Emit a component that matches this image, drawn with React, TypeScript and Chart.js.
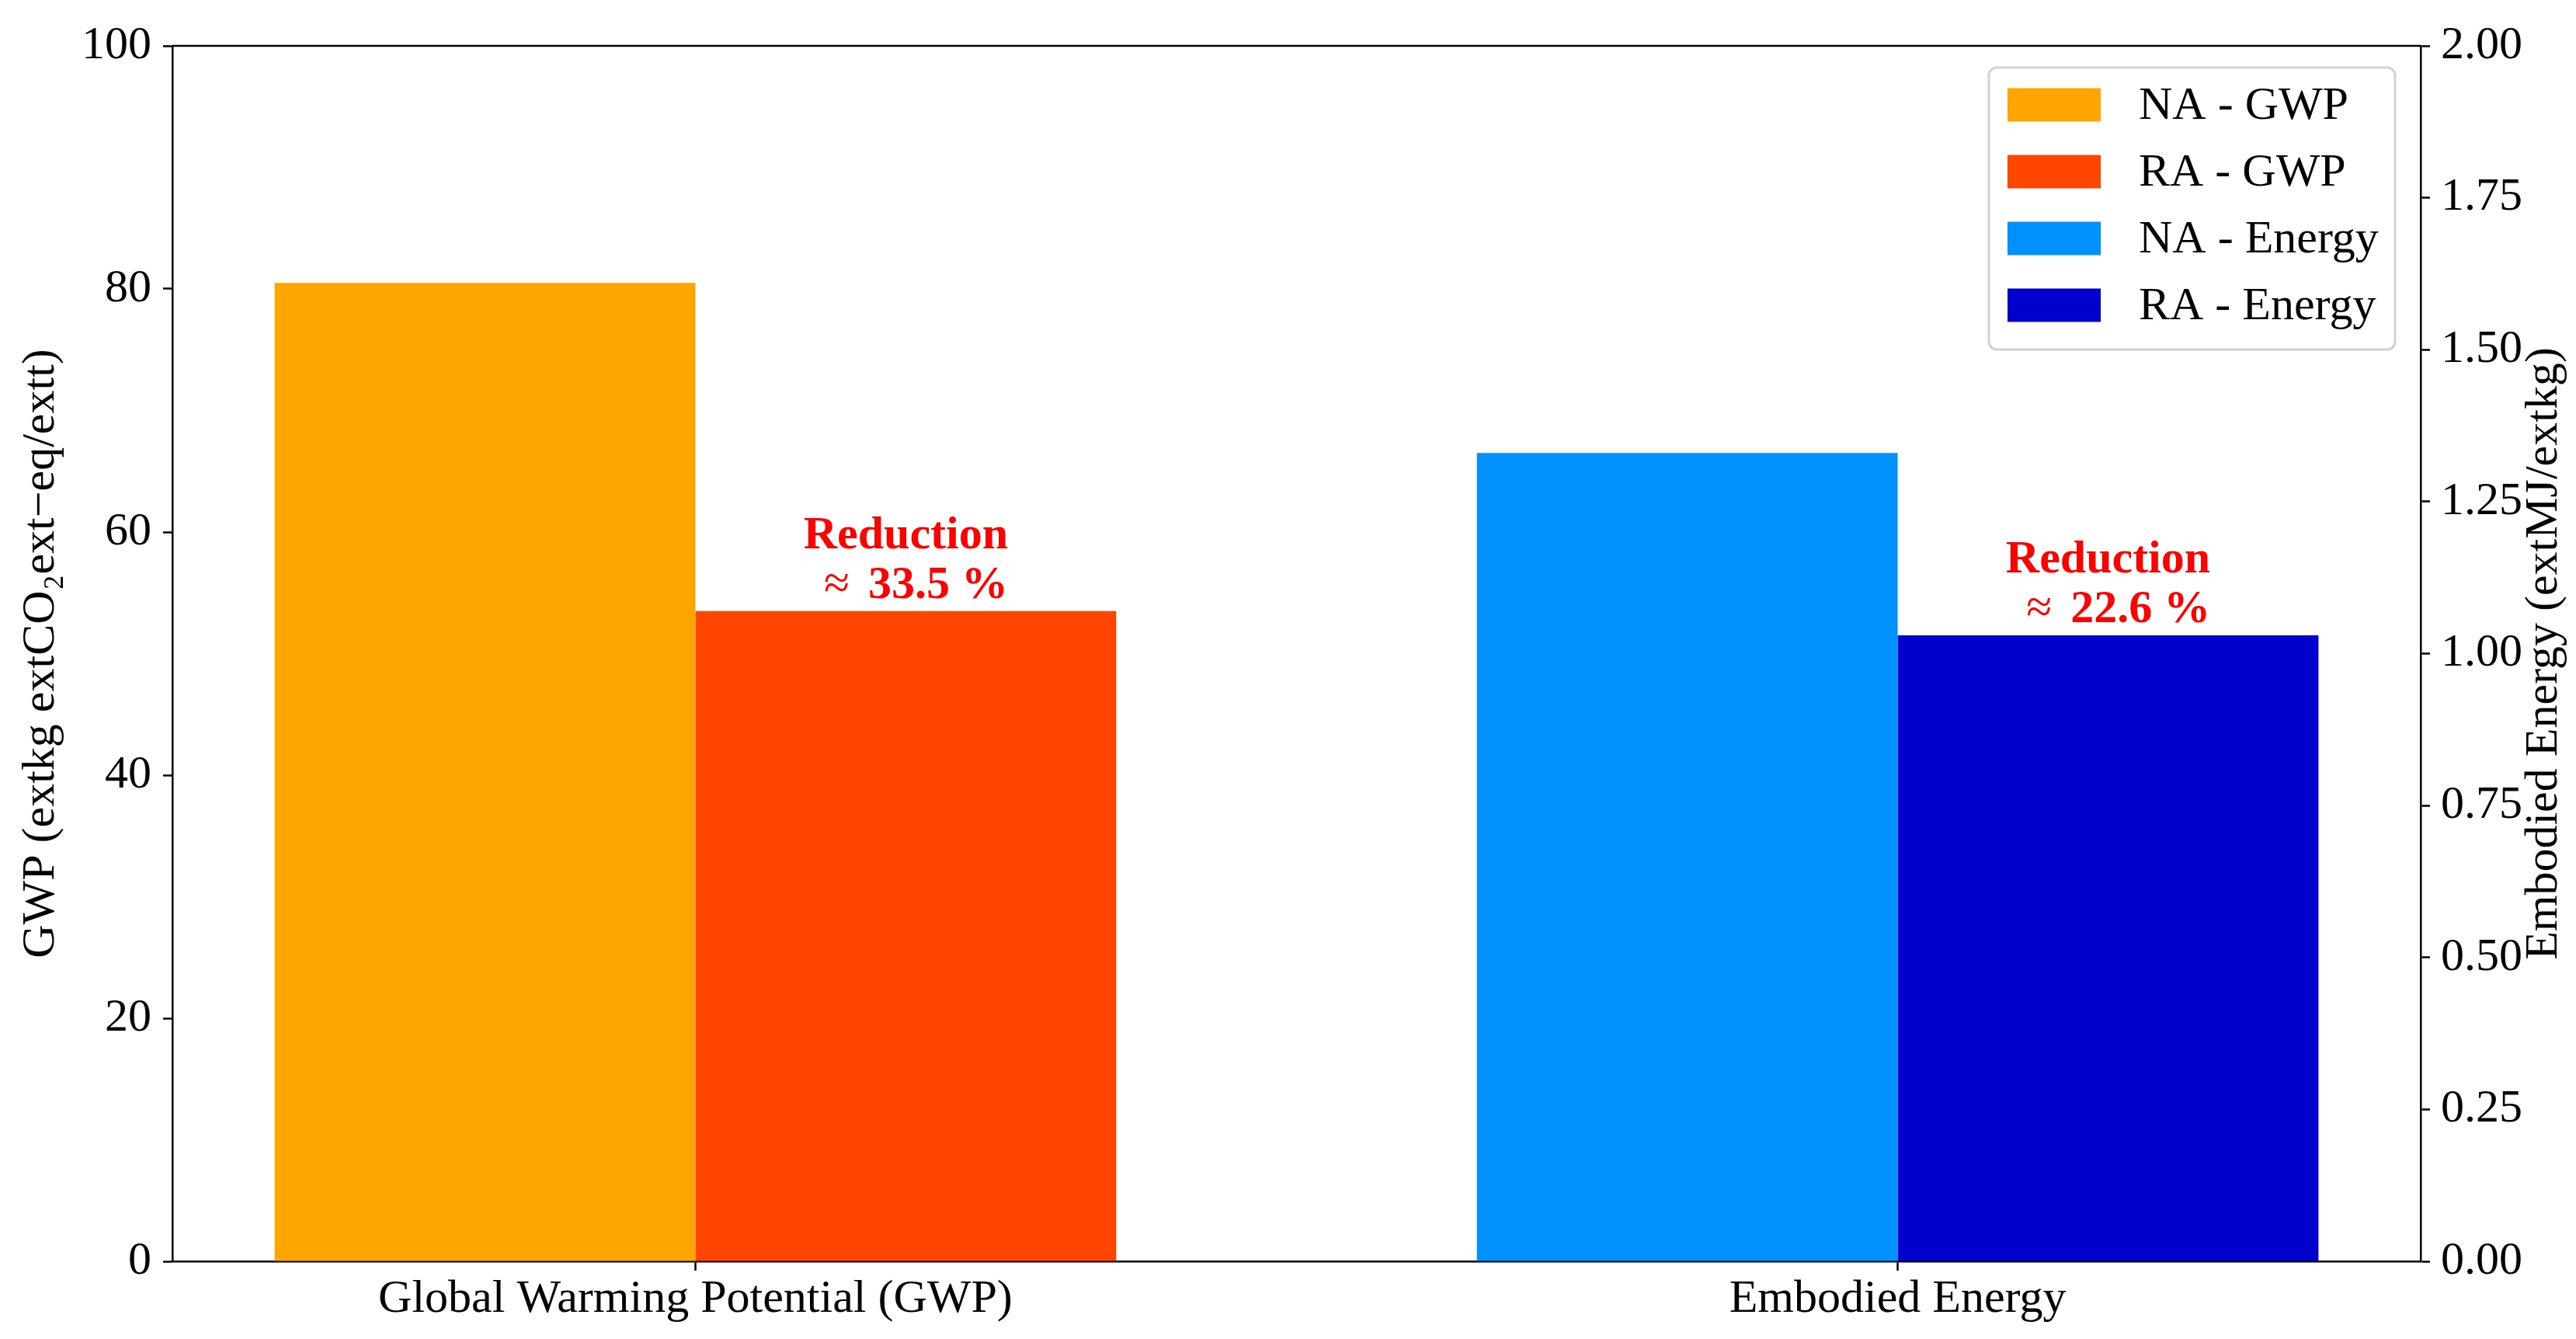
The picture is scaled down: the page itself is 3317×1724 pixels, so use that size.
import React, { useEffect, useRef } from 'react';
import { Chart, registerables } from 'chart.js';

Chart.register(...registerables);

const categories = ['Global Warming Potential (GWP)', 'Embodied Energy'];
const seriesLabels = ['NA - GWP', 'RA - GWP', 'NA - Energy', 'RA - Energy'];
const seriesColors = ['#FFA500', '#FF4500', '#0091FF', '#0000CD'];
const gwpValues = [80.5, 53.5]; // NA, RA
const energyValues = [1.33, 1.03]; // NA, RA
const reductionTitle = 'Reduction';
const reductionTexts = ['33.5 %', '22.6 %'];
const approxSign = '≈';
const leftAxisTitle = 'GWP (extkg extCO₂ext−eq/extt)';
const rightAxisTitle = 'Embodied Energy (extMJ/extkg)';

const FONT = "'Liberation Serif', 'Times New Roman', serif";
const FS = 60;

export default function App() {
  const ref = useRef<HTMLCanvasElement | null>(null);

  useEffect(() => {
    if (!ref.current) return;
    Chart.defaults.font.family = FONT;
    Chart.defaults.color = '#000';

    const datasets = [
      { label: seriesLabels[0], data: [{ x: 0, y: gwpValues[0] }, { x: 1, y: null }], backgroundColor: seriesColors[0], yAxisID: 'y' },
      { label: seriesLabels[1], data: [{ x: 0, y: gwpValues[1] }, { x: 1, y: null }], backgroundColor: seriesColors[1], yAxisID: 'y' },
      { label: seriesLabels[2], data: [{ x: 0, y: null }, { x: 1, y: energyValues[0] }], backgroundColor: seriesColors[2], yAxisID: 'y1' },
      { label: seriesLabels[3], data: [{ x: 0, y: null }, { x: 1, y: energyValues[1] }], backgroundColor: seriesColors[3], yAxisID: 'y1' },
    ];

    const overlay = {
      id: 'overlay',
      afterDraw(chart: any) {
        const ctx = chart.ctx as CanvasRenderingContext2D;
        const ca = chart.chartArea;
        ctx.save();
        // top spine
        ctx.strokeStyle = '#000';
        ctx.lineWidth = 2.5;
        ctx.beginPath();
        ctx.moveTo(ca.left, ca.top);
        ctx.lineTo(ca.right, ca.top);
        ctx.stroke();

        // right axis title (reads bottom-to-top)
        ctx.fillStyle = '#000';
        ctx.font = `${FS}px ${FONT}`;
        ctx.textAlign = 'center';
        ctx.textBaseline = 'alphabetic';
        ctx.translate(3292, (ca.top + ca.bottom) / 2);
        ctx.rotate(-Math.PI / 2);
        ctx.fillText(rightAxisTitle, 0, 0);
        ctx.setTransform(1, 0, 0, 1, 0, 0);

        // reduction annotations above RA bars
        const targets = [
          { ds: 1, idx: 0, text: reductionTexts[0] },
          { ds: 3, idx: 1, text: reductionTexts[1] },
        ];
        ctx.fillStyle = '#FF0000';
        ctx.textBaseline = 'alphabetic';
        for (const t of targets) {
          const el = chart.getDatasetMeta(t.ds).data[t.idx];
          if (!el) continue;
          ctx.font = `bold ${FS}px ${FONT}`;
          const w1 = ctx.measureText(reductionTitle).width;
          const right = el.x + w1 / 2;
          ctx.textAlign = 'center';
          ctx.fillText(reductionTitle, el.x, el.y - 81);
          ctx.textAlign = 'right';
          ctx.fillText(t.text, right, el.y - 17);
          const nw = ctx.measureText(t.text).width;
          const sp = ctx.measureText(' ').width;
          ctx.font = `${FS}px ${FONT}`;
          ctx.fillText(approxSign, right - nw - sp * 1.6, el.y - 17);
        }

        // legend
        const bx = 2561, by = 87, bw = 523, bh = 363;
        ctx.beginPath();
        (ctx as any).roundRect(bx, by, bw, bh, 10);
        ctx.fillStyle = 'rgba(255,255,255,0.8)';
        ctx.fill();
        ctx.strokeStyle = '#d2d2d2';
        ctx.lineWidth = 3;
        ctx.stroke();
        ctx.font = `${FS}px ${FONT}`;
        ctx.textAlign = 'left';
        ctx.textBaseline = 'middle';
        chart.data.datasets.forEach((d: any, i: number) => {
          const cy = by + 48 + i * 86;
          ctx.fillStyle = d.backgroundColor;
          ctx.fillRect(2585, cy - 21.5, 120, 43);
          ctx.fillStyle = '#000';
          ctx.fillText(d.label, 2754, cy + 2);
        });
        ctx.restore();
      },
    };

    const tickGrid = {
      drawOnChartArea: false,
      drawTicks: true,
      tickLength: 12,
      tickWidth: 2.5,
      tickColor: '#000',
      offset: false,
    };
    const border = { display: true, color: '#000', width: 2.5 };

    const chart = new Chart(ref.current, {
      type: 'bar',
      data: { datasets: datasets as any },
      plugins: [overlay],
      options: {
        animation: false,
        responsive: true,
        maintainAspectRatio: false,
        devicePixelRatio: 1,
        layout: { padding: { top: 59, left: 0, right: 0, bottom: 0 } },
        datasets: { bar: { categoryPercentage: 0.7, barPercentage: 1.0, skipNull: true, borderWidth: 0 } } as any,
        plugins: { legend: { display: false }, tooltip: { enabled: false } },
        scales: {
          x: {
            type: 'linear',
            min: -0.435,
            max: 1.435,
            offset: false,
            grid: tickGrid as any,
            border: border as any,
            afterBuildTicks: (s: any) => {
              s.ticks = categories.map((_, i) => ({ value: i }));
            },
            afterFit: (s: any) => {
              s.height = 100;
            },
            ticks: {
              callback: (v: any) => categories[Math.round(Number(v))],
              color: '#000',
              font: { size: FS, family: FONT },
              padding: 1,
              maxRotation: 0,
              autoSkip: false,
            },
          } as any,
          y: {
            position: 'left',
            min: 0,
            max: 100,
            grid: tickGrid as any,
            border: border as any,
            ticks: { stepSize: 20, color: '#000', font: { size: FS, family: FONT }, padding: 15 },
            title: {
              display: true,
              text: leftAxisTitle,
              color: '#000',
              font: { size: FS, family: FONT },
              padding: { top: 17, bottom: 0 },
            },
            afterFit: (s: any) => {
              s.width = 222;
            },
          } as any,
          y1: {
            position: 'right',
            min: 0,
            max: 2,
            grid: tickGrid as any,
            border: border as any,
            ticks: {
              stepSize: 0.25,
              color: '#000',
              font: { size: FS, family: FONT },
              padding: 14,
              callback: (v: any) => Number(v).toFixed(2),
            },
            afterFit: (s: any) => {
              s.width = 200;
            },
          } as any,
        },
      },
    });

    return () => chart.destroy();
  }, []);

  return (
    <div style={{ position: 'fixed', left: 0, top: 0, width: 3317, height: 1724, background: '#fff' }}>
      <canvas ref={ref} />
    </div>
  );
}
